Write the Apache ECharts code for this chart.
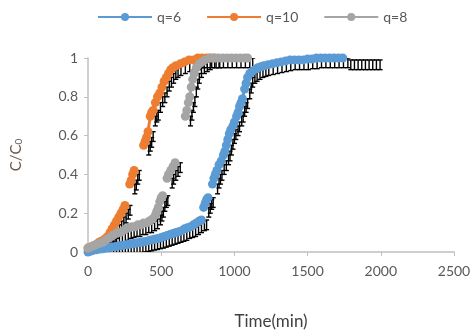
<!DOCTYPE html>
<html>
<head>
<meta charset="utf-8">
<script src="https://cdn.jsdelivr.net/npm/echarts@6/dist/echarts.min.js"></script>
<style>html,body{margin:0;padding:0;background:#fff}#c{width:475px;height:336px}</style>
</head>
<body>
<div id="c"></div>
<script>
var seriesNames = ['q=6', 'q=10', 'q=8'];
var xTicks = [0, 500, 1000, 1500, 2000, 2500];
var yTicks = [0, 0.2, 0.4, 0.6, 0.8, 1];

// null entries mark the gaps between measured runs
var q6T = [0,20,40,60,80,100,120,140,160,180,200,220,240,260,280,300,320,340,360,380,400,420,440,460,480,500,520,540,560,580,600,620,640,660,680,700,720,740,760,775,782,790,800,810,820,835,850,860,870,880,895,910,925,935,945,955,965,975,990,1000,1015,1025,1035,1045,1055,1070,1080,1090,1105,1120,1140,1160,1180,1200,1230,1260,1290,1320,1350,1380,1410,1440,1470,1500,1530,1560,1590,1620,1650,1680,1710,1740];
var q6C = [0,0.005,0.01,0.012,0.015,0.017,0.02,0.022,0.025,0.027,0.03,0.032,0.035,0.037,0.04,0.042,0.045,0.048,0.05,0.053,0.056,0.06,0.063,0.067,0.07,0.075,0.08,0.085,0.09,0.095,0.1,0.105,0.11,0.12,0.125,0.13,0.14,0.15,0.16,0.165,null,0.23,0.25,0.27,0.28,null,0.35,0.38,0.4,0.42,0.45,0.47,0.5,0.52,0.55,0.58,0.61,0.63,0.65,0.67,0.7,0.72,0.75,0.77,0.79,0.84,0.87,0.9,0.92,0.93,0.94,0.95,0.955,0.96,0.965,0.97,0.975,0.98,0.985,0.99,0.99,0.99,0.99,0.995,0.995,1,1,1,1,1,1,1];

var q10T = [0,15,30,45,60,75,90,105,120,135,150,165,180,195,210,225,240,252,270,285,295,305,315,350,380,390,400,410,425,435,445,460,475,490,505,520,535,550,565,580,600,630,660,690,720,750,780,810,840,865];
var q10C = [0.02,0.025,0.03,0.035,0.04,0.05,0.055,0.06,0.07,0.08,0.1,0.12,0.14,0.16,0.18,0.2,0.22,0.24,null,0.35,0.37,0.4,0.42,null,0.55,0.57,0.59,0.62,0.7,0.72,0.73,0.77,0.8,0.82,0.85,0.88,0.9,0.92,0.94,0.95,0.96,0.97,0.98,0.99,0.99,1,1,1,1,1];

var q8T = [0,15,30,45,60,80,100,120,140,160,180,200,220,240,260,280,300,320,340,360,380,400,420,440,460,470,480,490,500,510,525,540,550,565,580,595,630,665,675,685,695,705,715,725,740,760,780,800,830,860,890,920,950,980,1010,1040,1070,1090];
var q8C = [0.02,0.025,0.03,0.035,0.04,0.045,0.05,0.06,0.07,0.08,0.09,0.1,0.1,0.11,0.12,0.125,0.13,0.13,0.14,0.14,0.15,0.15,0.16,0.17,0.19,0.21,0.23,0.26,0.28,0.29,null,0.38,0.4,0.42,0.44,0.46,null,0.7,0.73,0.77,0.8,0.85,0.89,0.92,0.95,0.97,0.98,0.99,1,1,1,1,1,1,1,1,1,1];

var tailT = [1760,1785,1810,1835,1860,1885,1910,1935,1960];
var tailC = [0.99,0.99,0.99,0.99,0.99,0.99,0.99,0.99,0.99];

var colors = ['#5B9BD5', '#ED7D31', '#A5A5A5'];
var barDx = 35, barUp = 0.0, barDown = 0.05, capHalf = 2.5;

function pairs(t, c) { return t.map(function (x, i) { return [x, c[i] === null ? '-' : c[i]]; }); }

function errRender(params, api) {
  var t = api.value(0), v = api.value(1);
  if (v === null || isNaN(v)) { return null; }
  var top = api.coord([t + barDx, v + barUp]);
  var bot = api.coord([t + barDx, v - barDown]);
  var st = { stroke: '#000', lineWidth: 1.4 };
  return {
    type: 'group',
    children: [
      { type: 'line', shape: { x1: top[0], y1: top[1], x2: bot[0], y2: bot[1] }, style: st },
      { type: 'line', shape: { x1: top[0] - capHalf, y1: top[1], x2: top[0] + capHalf, y2: top[1] }, style: st },
      { type: 'line', shape: { x1: bot[0] - capHalf, y1: bot[1], x2: bot[0] + capHalf, y2: bot[1] }, style: st }
    ]
  };
}

var fontFam = 'Lato, "Noto Sans", sans-serif';
var dataSets = [pairs(q6T, q6C), pairs(q10T, q10C), pairs(q8T, q8C)];

var series = [];
dataSets.concat([pairs(tailT, tailC)]).forEach(function (d, i) {
  series.push({ type: 'custom', name: 'err' + i, renderItem: errRender, data: d, z: 1, clip: true, silent: true });
});
dataSets.forEach(function (d, i) {
  series.push({
    type: 'line', name: seriesNames[i], data: d, z: 3 + i,
    symbol: 'circle', symbolSize: 9, showAllSymbol: true, connectNulls: false,
    itemStyle: { color: colors[i] },
    lineStyle: { color: colors[i], width: 3 },
    animation: false
  });
});

var chart = echarts.init(document.getElementById('c'));
chart.setOption({
  animation: false,
  color: colors,
  legend: {
    data: seriesNames, top: 5, left: 92, itemWidth: 54, itemHeight: 10, itemGap: 25,
    textStyle: { color: '#595959', fontSize: 14, fontFamily: fontFam }
  },
  grid: { left: 88, right: 21, top: 58, bottom: 84, containLabel: false },
  xAxis: {
    type: 'value', min: 0, max: 2500, interval: 500,
    name: 'Time(min)', nameLocation: 'middle', nameGap: 61,
    nameTextStyle: { color: '#404040', fontSize: 17, fontFamily: fontFam },
    axisLine: { show: true, lineStyle: { color: '#BFBFBF', width: 1.5 } },
    axisTick: { show: true, length: 4, lineStyle: { color: '#BFBFBF' } },
    axisLabel: { color: '#595959', fontSize: 14, fontFamily: fontFam, margin: 12,
      formatter: function (v) { return String(v); } },
    splitLine: { show: false }
  },
  yAxis: {
    type: 'value', min: 0, max: 1, interval: 0.2,
    name: '{a|C/C}{b|0}', nameLocation: 'middle', nameGap: 64, nameRotate: 90,
    nameTextStyle: { color: '#6B5B4F', fontSize: 15, fontFamily: fontFam,
      rich: { a: { fontSize: 15, fontFamily: fontFam, color: '#6B5B4F' },
              b: { fontSize: 10, fontFamily: fontFam, color: '#6B5B4F', padding: [6, 0, 0, 0] } } },
    axisLine: { show: true, lineStyle: { color: '#BFBFBF', width: 1.5 } },
    axisTick: { show: true, length: 4, lineStyle: { color: '#BFBFBF' } },
    axisLabel: { color: '#595959', fontSize: 14, fontFamily: fontFam, margin: 10,
      formatter: function (v) { return String(Math.round(v * 10) / 10); } },
    splitLine: { show: false }
  },
  series: series
});
</script>
</body>
</html>
